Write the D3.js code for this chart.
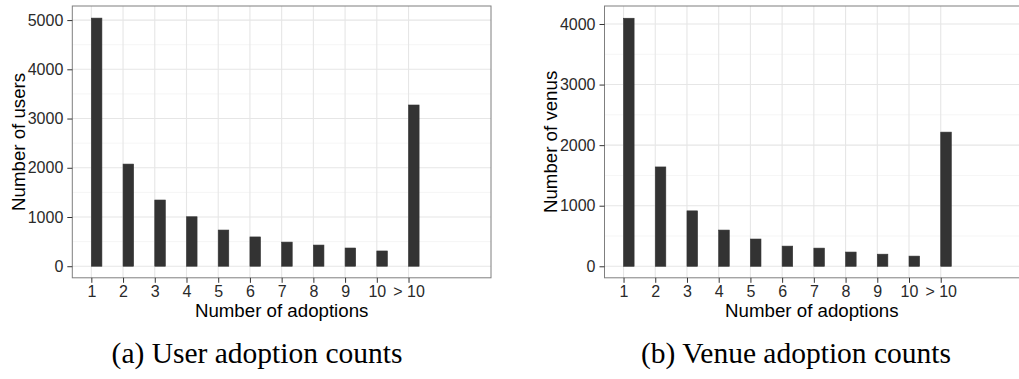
<!DOCTYPE html>
<html>
<head>
<meta charset="utf-8">
<script src="https://cdn.jsdelivr.net/npm/d3@7"></script>
<style>
  html, body { margin: 0; padding: 0; background: #fff; }
  svg { display: block; }
</style>
</head>
<body>
<svg id="chart" width="1019" height="379"></svg>
<script>
// Adoption categories (1..10 and "> 10")
const categories = [1, 2, 3, 4, 5, 6, 7, 8, 9, 10, 11];
const tickLabels = ["1", "2", "3", "4", "5", "6", "7", "8", "9", "10", "> 10"];

// Counts per category
const userCounts  = [5040, 2075, 1345, 1005, 735, 595, 490, 430, 370, 310, 3275];
const venueCounts = [4095, 1640, 915, 598, 450, 333, 300, 235, 200, 168, 2215];

const userYTicks  = [0, 1000, 2000, 3000, 4000, 5000];
const venueYTicks = [0, 1000, 2000, 3000, 4000];

const svg = d3.select("#chart");
const sans = "'Liberation Sans', Arial, Helvetica, sans-serif";
const serif = "'Liberation Serif', 'Times New Roman', serif";

function drawPanel(opts) {
  const { left, top, width, height, counts, yTicks, yMin, yMax, yTitle, caption, captionX } = opts;
  const g = svg.append("g");

  const x = d3.scaleLinear().domain([0.4, 13.6]).range([left, left + width]);
  const y = d3.scaleLinear().domain([yMin, yMax]).range([top + height, top]);

  const clipId = "clip" + Math.round(left);
  svg.append("clipPath").attr("id", clipId)
    .append("rect").attr("x", left).attr("y", top).attr("width", width).attr("height", height);

  const plot = g.append("g").attr("clip-path", `url(#${clipId})`);

  // minor horizontal grid
  const minor = d3.range(yTicks[0] + 500, yMax, 1000);
  plot.selectAll(".ymin").data(minor).join("line")
    .attr("x1", left).attr("x2", left + width)
    .attr("y1", d => y(d)).attr("y2", d => y(d))
    .attr("stroke", "#f2f2f2").attr("stroke-width", 0.8);

  // major grid
  plot.selectAll(".ymaj").data(yTicks).join("line")
    .attr("x1", left).attr("x2", left + width)
    .attr("y1", d => y(d)).attr("y2", d => y(d))
    .attr("stroke", "#e6e6e6").attr("stroke-width", 1.1);
  plot.selectAll(".xmaj").data(categories).join("line")
    .attr("x1", d => x(d)).attr("x2", d => x(d))
    .attr("y1", top).attr("y2", top + height)
    .attr("stroke", "#e6e6e6").attr("stroke-width", 1.1);

  // bins of width 1/3 from 2/3 to 34/3; categories occupy [k, k+1/3]
  const bins = d3.range(2, 34).map(i => {
    const x0 = i / 3;
    const idx = categories.findIndex(c => Math.abs(c - x0) < 1e-6);
    return { x0, x1: x0 + 1 / 3, v: idx >= 0 ? counts[idx] : 0 };
  });
  plot.selectAll(".bin").data(bins).join("rect")
    .attr("x", d => x(d.x0))
    .attr("width", d => x(d.x1) - x(d.x0))
    .attr("y", d => y(d.v))
    .attr("height", d => y(0) - y(d.v))
    .attr("fill", "#333333")
    .attr("stroke", "#333333")
    .attr("stroke-width", 0.6);

  // panel border
  g.append("rect")
    .attr("x", left).attr("y", top).attr("width", width).attr("height", height)
    .attr("fill", "none").attr("stroke", "#7f7f7f").attr("stroke-width", 1);

  // axes
  const xAxis = d3.axisBottom(x).tickValues(categories)
    .tickFormat((d, i) => tickLabels[i]).tickSize(5).tickPadding(3);
  const gx = g.append("g").attr("transform", `translate(0,${top + height})`).call(xAxis);
  const yAxis = d3.axisLeft(y).tickValues(yTicks).tickFormat(d3.format("d"))
    .tickSize(5).tickPadding(4);
  const gy = g.append("g").attr("transform", `translate(${left},0)`).call(yAxis);
  [gx, gy].forEach(a => {
    a.attr("font-size", null).attr("font-family", null);
    a.select(".domain").remove();
    a.selectAll(".tick line").attr("stroke", "#333333").attr("stroke-width", 1);
    a.selectAll(".tick text").attr("fill", "#2a2a2a")
      .style("font-family", sans).style("font-size", "16px");
  });

  // axis titles
  g.append("text")
    .attr("x", left + width / 2 - (left > 500 ? 2 : 0)).attr("y", 317)
    .attr("text-anchor", "middle")
    .style("font-family", sans).style("font-size", "18.7px").attr("fill", "#000")
    .text("Number of adoptions");
  g.append("text")
    .attr("transform", `translate(${left - 47.5},${top + height / 2}) rotate(-90)`)
    .attr("text-anchor", "middle")
    .style("font-family", sans).style("font-size", "18.7px").attr("fill", "#000")
    .text(yTitle);

  // caption
  g.append("text")
    .attr("x", captionX).attr("y", 363)
    .attr("text-anchor", "middle")
    .style("font-family", serif).style("font-size", "29.5px").attr("fill", "#000")
    .text(caption);
}

drawPanel({
  left: 72.3, top: 6, width: 418.7, height: 271.8,
  counts: userCounts, yTicks: userYTicks, yMin: -235, yMax: 5286,
  yTitle: "Number of users", caption: "(a) User adoption counts", captionX: 257
});
drawPanel({
  left: 604.5, top: 6, width: 418.7, height: 271.8,
  counts: venueCounts, yTicks: venueYTicks, yMin: -190, yMax: 4297,
  yTitle: "Number of venus", caption: "(b) Venue adoption counts", captionX: 796
});
</script>
</body>
</html>
